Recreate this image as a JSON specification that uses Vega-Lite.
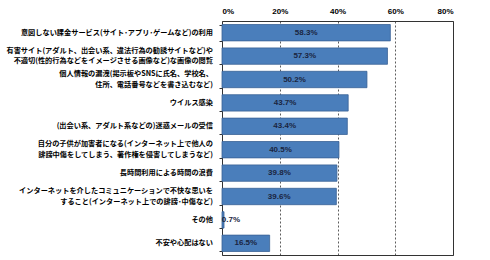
{
  "$schema": "https://vega.github.io/schema/vega-lite/v6.json",
  "width": 231,
  "height": 234,
  "autosize": {"type": "none"},
  "padding": {"left": 222, "top": 21, "right": 37, "bottom": 5},
  "background": "white",
  "config": {
    "view": {"stroke": "#333333", "strokeWidth": 1},
    "font": "Noto Sans CJK JP"
  },
  "data": {
    "values": [
      {"order": 1, "label": "意図しない課金サービス(サイト･アプリ･ゲームなど)の利用", "v": 58.3},
      {"order": 2, "label": "有害サイト(アダルト、出会い系、違法行為の勧誘サイトなど)や|不適切(性的行為などをイメージさせる画像など)な画像の閲覧", "v": 57.3},
      {"order": 3, "label": "個人情報の漏洩(掲示板やSNSに氏名、学校名、|住所、電話番号などを書き込むなど)", "v": 50.2},
      {"order": 4, "label": "ウイルス感染", "v": 43.7},
      {"order": 5, "label": "(出会い系、アダルト系などの)迷惑メールの受信", "v": 43.4},
      {"order": 6, "label": "自分の子供が加害者になる(インターネット上で他人の|誹謗中傷をしてしまう、著作権を侵害してしまうなど)", "v": 40.5},
      {"order": 7, "label": "長時間利用による時間の浪費", "v": 39.8},
      {"order": 8, "label": "インターネットを介したコミュニケーションで不快な思いを|すること(インターネット上での誹謗･中傷など)", "v": 39.6},
      {"order": 9, "label": "その他", "v": 0.7},
      {"order": 10, "label": "不安や心配はない", "v": 16.5}
    ]
  },
  "encoding": {
    "y": {
      "field": "label",
      "type": "nominal",
      "sort": {"field": "order", "op": "min"},
      "scale": {"paddingInner": 0.3, "paddingOuter": 0.15},
      "axis": {
        "title": null,
        "labels": false,
        "domain": false,
        "ticks": true,
        "tickBand": "extent",
        "tickSize": 3,
        "tickColor": "#333333",
        "grid": false
      }
    }
  },
  "layer": [
    {
      "mark": {"type": "bar", "color": "#4a7ebb", "stroke": "#3a6296", "strokeWidth": 0.8},
      "encoding": {
        "x": {
          "field": "v",
          "type": "quantitative",
          "scale": {"domain": [0, 80]},
          "axis": {
            "orient": "top",
            "title": null,
            "values": [0, 20, 40, 60, 80],
            "labelExpr": "datum.value + '%'",
            "labelFont": "Liberation Sans",
            "labelFontSize": 8,
            "labelFontWeight": "bold",
            "labelColor": "#000000",
            "labelPadding": 6,
            "ticks": false,
            "domain": false,
            "grid": true,
            "gridDash": [2, 2],
            "gridColor": "#333333",
            "gridWidth": 0.8
          }
        }
      }
    },
    {
      "transform": [
        {"calculate": "format(datum.v, '.1f') + '%'", "as": "txt"},
        {"calculate": "datum.v >= 5 ? datum.v / 2 : datum.v + 2.4", "as": "pos"}
      ],
      "mark": {"type": "text", "font": "Liberation Sans", "fontSize": 8, "fontWeight": "bold", "color": "#1a2540", "align": "center", "baseline": "middle"},
      "encoding": {
        "x": {"field": "pos", "type": "quantitative", "scale": {"domain": [0, 80]}},
        "text": {"field": "txt"}
      }
    },
    {
      "transform": [{"filter": "indexof(datum.label, '|') < 0"}],
      "mark": {"type": "text", "font": "Noto Sans CJK JP", "fontSize": 7.2, "fontWeight": "bold", "color": "#000000", "align": "right", "baseline": "middle", "dx": -9},
      "encoding": {
        "x": {"datum": 0, "type": "quantitative"},
        "text": {"field": "label"}
      }
    },
    {
      "transform": [{"filter": "indexof(datum.label, '|') >= 0"}],
      "mark": {"type": "text", "font": "Noto Sans CJK JP", "fontSize": 7.2, "fontWeight": "bold", "color": "#000000", "align": "right", "baseline": "middle", "dx": -9, "dy": -5.25, "lineBreak": "|", "lineHeight": 10.5},
      "encoding": {
        "x": {"datum": 0, "type": "quantitative"},
        "text": {"field": "label"}
      }
    }
  ]
}
